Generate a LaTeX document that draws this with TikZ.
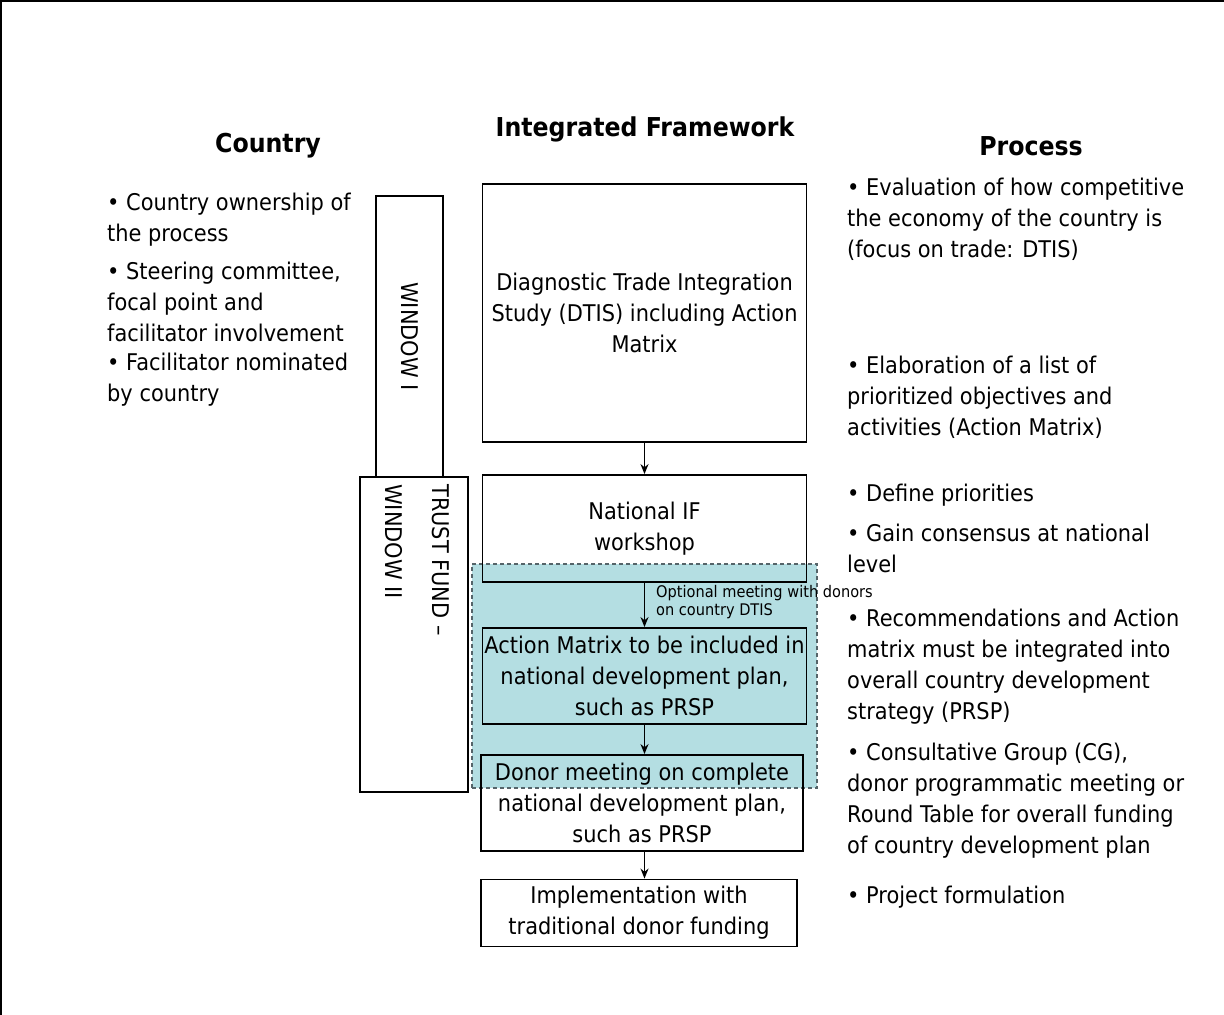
\documentclass[tikz,border=0pt]{standalone}
\usepackage{fontspec}
\setmainfont{DejaVu Sans}[FakeStretch=0.91]
\usetikzlibrary{calc,arrows.meta}

\definecolor{tealfill}{RGB}{180,222,226}
\definecolor{dashgray}{RGB}{85,100,105}

\tikzset{
  blk/.style={draw=black, line width=1.9pt, inner sep=0pt, align=center, font=\fontsize{23}{31}\selectfont},
  txt/.style={inner sep=0pt, align=left, anchor=west, font=\fontsize{23}{31}\selectfont},
  hd/.style={inner sep=0pt, font=\fontsize{26}{30}\selectfont\bfseries},
  arr/.style={-{Stealth[length=10pt,width=8pt]}, line width=1.3pt},
}

\begin{document}
\begin{tikzpicture}[x=1pt,y=-1pt]
    \useasboundingbox (0,0) rectangle (1224,1015);
    
    % frame
    \draw[line width=2pt] (0,1) -- (1224,1);
    \draw[line width=2pt] (1,0) -- (1,1015);
    
    % headings
    \node[hd] (country) at (268,146) {Country};
    \node[hd] (ifw) at (645,129) {Integrated Framework};
    \node[hd] (process) at (1031,146) {Process};
    
    % shaded zone
    \node[fill=tealfill, draw=dashgray, dash pattern=on 4pt off 3pt, line width=1.4pt, minimum width=345, minimum height=224, inner sep=0pt] (optzone) at (644.5,676) {};
    
    % windows
    \node[blk, rotate=-90, minimum width=281, minimum height=67] (win1) at (409.5,336.5) {WINDOW I};
    \node[draw=black, line width=1.9pt, minimum width=108, minimum height=315, inner sep=0pt] (win2) at (414,634.5) {};
    \node[txt, rotate=-90, anchor=north west, font=\fontsize{23}{47}\selectfont] (win2txt) at ($(win2.north east) + (-19,8)$) {TRUST FUND –\\WINDOW II};
    
    % main column
    \node[blk, minimum width=324, minimum height=258] (dtis) at (644.5,313) {Diagnostic Trade Integration\\Study (DTIS) including Action\\Matrix};
    
    \node[blk, minimum width=324, minimum height=107] (natif) at (644.5,528.5) {National IF\\workshop};
    
    \node[blk, minimum width=324, minimum height=96] (actmat) at (644.5,676) {Action Matrix to be included in\\national development plan,\\such as PRSP};
    
    \node[blk, minimum width=322, minimum height=96] (donor) at (642,803) {Donor meeting on complete\\national development plan,\\such as PRSP};
    
    \node[blk, minimum width=316, minimum height=67] (impl) at (639,913) {Implementation with\\traditional donor funding};
    
    \draw[arr] (dtis.south) -- (natif.north);
    \draw[arr] (natif.south) -- (actmat.north);
    \draw[arr] (actmat.south) -- (actmat.south |- donor.north);
    \draw[arr] (actmat.south |- donor.south) -- (actmat.south |- impl.north);
    
    \node[inner sep=0pt, align=left, anchor=west, font=\fontsize{16}{18}\selectfont] (optlbl) at (656,602) {Optional meeting with donors\\on country DTIS};
    
    % country column
    \node[txt] (c1) at (107,219.5) {• Country ownership of\\the process};
    \node[txt] (c2) at (107,302) {• Steering committee,\\focal point and\\facilitator involvement};
    \node[txt] (c3) at (107,379.5) {• Facilitator nominated\\by country};
    
    % process column
    \node[txt] (p1) at (847,219) {• Evaluation of how competitive\\the economy of the country is\\(focus on trade: DTIS)};
    \node[txt] (p2) at (847,397) {• Elaboration of a list of\\prioritized objectives and\\activities (Action Matrix)};
    \node[txt] (p3) at (847,495) {• Define priorities};
    \node[txt] (p4) at (847,548.5) {• Gain consensus at national\\level};
    \node[txt] (p5) at (847,667) {• Recommendations and Action\\matrix must be integrated into\\overall country development\\strategy (PRSP)};
    \node[txt] (p6) at (847,800.5) {• Consultative Group (CG),\\donor programmatic meeting or\\Round Table for overall funding\\of country development plan};
    \node[txt] (p7) at (847,897) {• Project formulation};
    
\end{tikzpicture}
\end{document}
